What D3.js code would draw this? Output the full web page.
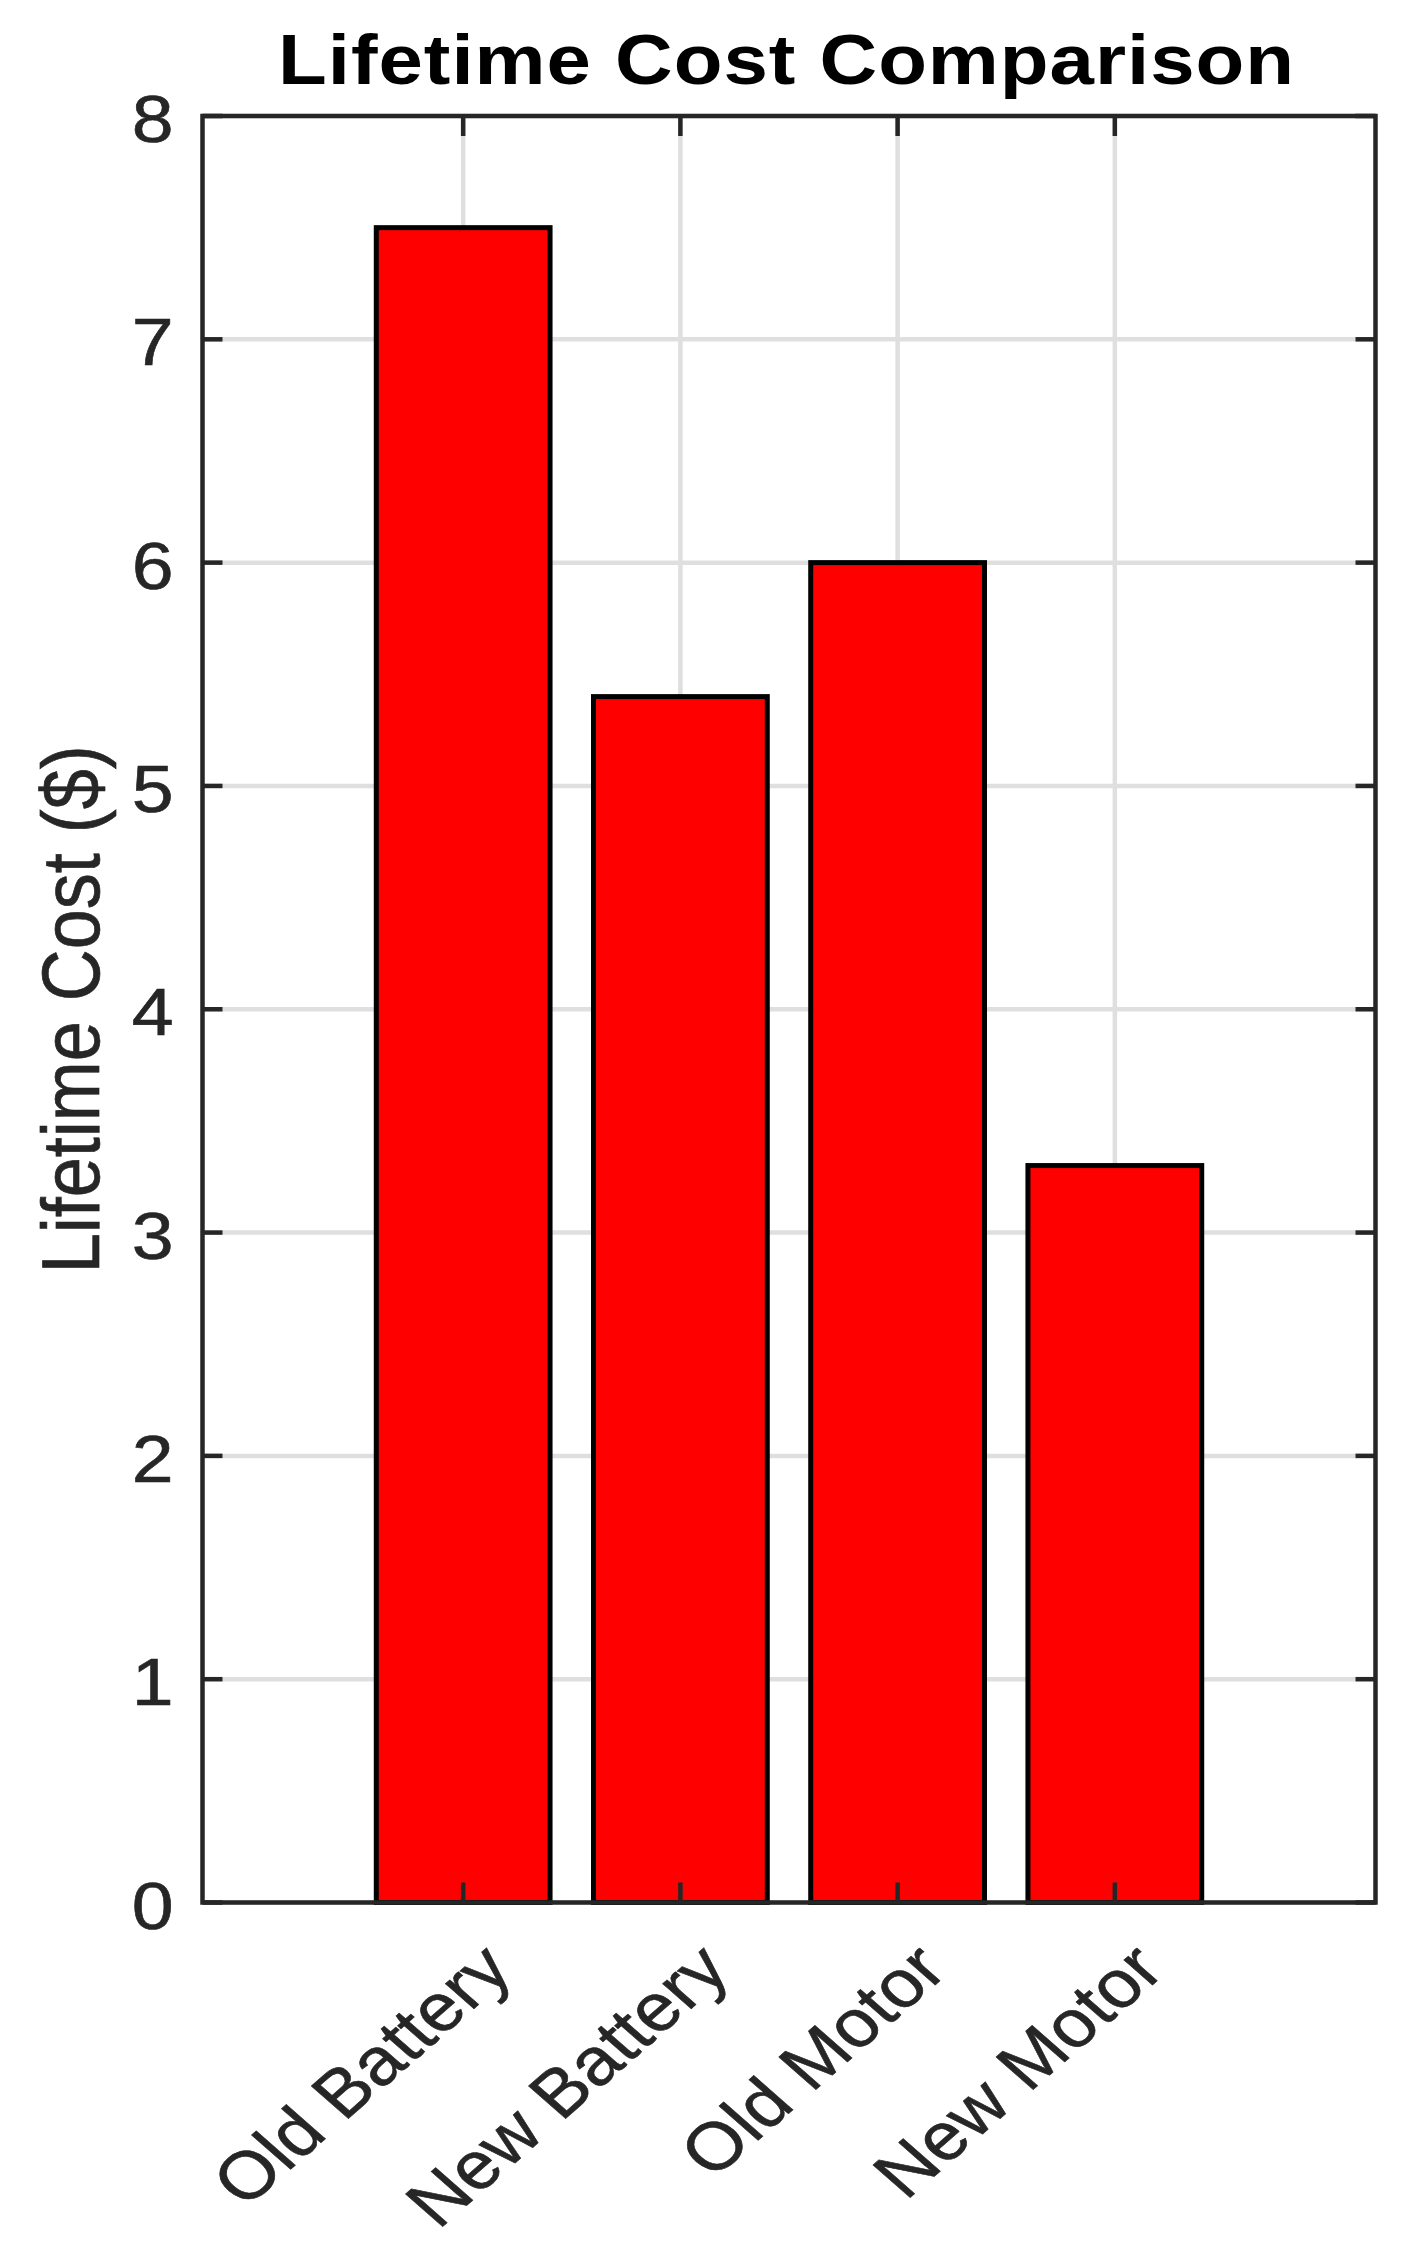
<!DOCTYPE html>
<html>
<head>
<meta charset="utf-8">
<script src="https://cdn.jsdelivr.net/npm/d3@7"></script>
<style>
  html, body { margin: 0; padding: 0; background: #ffffff; }
  svg { display: block; }
  text { font-family: "Liberation Sans", Arial, Helvetica, sans-serif; }
</style>
</head>
<body>
<script>
const categories = ["Old Battery", "New Battery", "Old Motor", "New Motor"];
const values = [7.5, 5.4, 6.0, 3.3];
const yTicks = [0, 1, 2, 3, 4, 5, 6, 7, 8];
const titleText = "Lifetime Cost Comparison";
const yLabelText = "Lifetime Cost ($)";

const W = 1415, H = 2252;
const m = { left: 202.5, right: 1375.5, top: 116, bottom: 1902.5 };
const sx = 1.14; // horizontal stretch of the rendered text

const svg = d3.select("body").append("svg").attr("width", W).attr("height", H);
svg.append("rect").attr("width", W).attr("height", H).attr("fill", "#fff");

const xIdx = d3.scaleLinear().domain([-0.2, 5.2]).range([m.left, m.right]);
const x = c => xIdx(categories.indexOf(c) + 1);
const barW = xIdx(0.8) - xIdx(0);
const y = d3.scaleLinear().domain([0, 8]).range([m.bottom, m.top]);

const axisColor = "#262626";
const gridColor = "#dfdfdf";

// grid
const grid = svg.append("g");
grid.selectAll("line.h").data(yTicks).join("line")
  .attr("x1", m.left).attr("x2", m.right)
  .attr("y1", d => y(d)).attr("y2", d => y(d))
  .attr("stroke", gridColor).attr("stroke-width", 4.5);
grid.selectAll("line.v").data(categories).join("line")
  .attr("x1", d => x(d)).attr("x2", d => x(d))
  .attr("y1", m.top).attr("y2", m.bottom)
  .attr("stroke", gridColor).attr("stroke-width", 4.5);

// ticks (inward)
const tl = 20;
const ticks = svg.append("g").attr("stroke", axisColor).attr("stroke-width", 4.5);
yTicks.forEach(t => {
  ticks.append("line").attr("x1", m.left).attr("x2", m.left + tl).attr("y1", y(t)).attr("y2", y(t));
  ticks.append("line").attr("x1", m.right).attr("x2", m.right - tl).attr("y1", y(t)).attr("y2", y(t));
});
categories.forEach(c => {
  ticks.append("line").attr("x1", x(c)).attr("x2", x(c)).attr("y1", m.top).attr("y2", m.top + tl);
});

// bars
svg.append("g").selectAll("rect").data(categories).join("rect")
  .attr("x", d => x(d) - barW / 2)
  .attr("width", barW)
  .attr("y", (d, i) => y(values[i]))
  .attr("height", (d, i) => y(0) - y(values[i]))
  .attr("fill", "#ff0000")
  .attr("stroke", "#000000")
  .attr("stroke-width", 5);

// bottom ticks over bars
categories.forEach(c => {
  svg.append("line").attr("x1", x(c)).attr("x2", x(c)).attr("y1", m.bottom).attr("y2", m.bottom - tl)
    .attr("stroke", axisColor).attr("stroke-width", 4.5);
});

// axis box
svg.append("rect")
  .attr("x", m.left).attr("y", m.top)
  .attr("width", m.right - m.left).attr("height", m.bottom - m.top)
  .attr("fill", "none").attr("stroke", axisColor).attr("stroke-width", 4.5);

// y tick labels
svg.append("g").selectAll("text").data(yTicks).join("text")
  .attr("transform", d => `translate(${m.left - 29},${y(d) + 26}) scale(${sx},1)`)
  .attr("text-anchor", "end")
  .attr("font-size", 66)
  .attr("fill", axisColor)
  .attr("stroke", axisColor).attr("stroke-width", 0.6)
  .text(d => d);

// x tick labels rotated
svg.append("g").selectAll("text").data(categories).join("text")
  .attr("transform", d => `translate(${x(d) + 52},${m.bottom + 70}) scale(${sx},1) rotate(-45)`)
  .attr("text-anchor", "end")
  .attr("font-size", 67)
  .attr("fill", axisColor)
  .attr("stroke", axisColor).attr("stroke-width", 0.6)
  .text(d => d);

// y label
svg.append("text")
  .attr("transform", `translate(99,${(m.top + m.bottom) / 2}) scale(${sx},1) rotate(-90)`)
  .attr("text-anchor", "middle")
  .attr("font-size", 72)
  .attr("fill", axisColor)
  .attr("stroke", axisColor).attr("stroke-width", 0.6)
  .text(yLabelText);

// title
svg.append("text")
  .attr("transform", `translate(278,84) scale(${sx},1)`)
  .attr("font-size", 70)
  .attr("font-weight", "bold")
  .attr("textLength", 1016 / sx)
  .attr("lengthAdjust", "spacing")
  .attr("fill", "#000")
  .text(titleText);
</script>
</body>
</html>
